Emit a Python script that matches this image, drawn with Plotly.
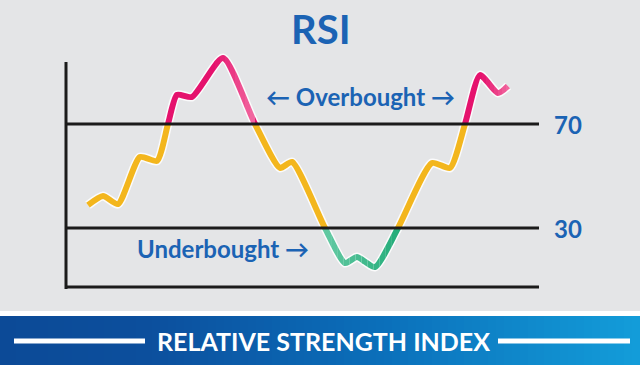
import plotly.graph_objects as go
import numpy as np

# ---------------- data ----------------
days = [0, 3, 6, 10.4, 13.8, 16, 17.8, 20.8, 27, 33.4, 38.4, 40.8, 47.4, 51.4,
        53.8, 57.4, 62, 68.8, 72.4, 75.4, 78.4, 82, 84]
rsi = [38.8, 42.3, 39.2, 57.3, 55.8, 70, 81.2, 80.4, 95.4, 70, 53.1, 55.4, 30,
       16.5, 18.8, 15, 30, 55, 53.1, 70, 88.8, 81.9, 84.6]
levels = [70, 30]
level_labels = ["70", "30"]
title_text = "RSI"
over_text = "← Overbought →"
under_text = "Underbought →"
banner_text = "RELATIVE STRENGTH INDEX"

# ---------------- layout helpers ----------------
W, H = 640, 365
X0, X1 = -17.6, 110.4                       # day range across full width
Y0, Y1 = 70 - (H - 124) / 2.6, 70 + 124 / 2.6   # value range across full height

BG = "#e4e5e7"
BLUE = "#1b63b4"
YELLOW = "#f3b61d"
PINK_D, PINK_L = "#e5126d", "#f26ca2"
GREEN_L, GREEN_D = "#63c9a3", "#24ad7a"
SMOOTH = 0.6
LW = 6


def px(x):
    return x / W


def py(y):
    return 1 - y / H


def hx(h):
    h = h.lstrip("#")
    return np.array([int(h[i:i + 2], 16) for i in (0, 2, 4)], dtype=float)


def mix(c1, c2, t):
    t = min(max(t, 0), 1)
    c = hx(c1) * (1 - t) + hx(c2) * t
    return "rgb(%d,%d,%d)" % tuple(np.round(c))


def pink_col(x):
    if x <= 25.4:
        return PINK_D
    if x <= 33.4:
        return mix(PINK_D, PINK_L, (x - 25.4) / 8)
    if x <= 78.8:
        return PINK_D
    return mix(PINK_D, PINK_L, (x - 78.8) / 5.6)


def green_col(x):
    return mix(GREEN_L, GREEN_D, (x - 47.4) / 14.6)


bands = [(X0, X1, 30, 70, YELLOW)]
pe = np.concatenate([[X0], np.linspace(25.4, 33.4, 9), np.linspace(78.8, 84.4, 8), [X1]])
for a, b in zip(pe[:-1], pe[1:]):
    bands.append((a, b, 70, Y1, pink_col((a + b) / 2)))
ge = np.concatenate([[X0], np.linspace(47.4, 62, 13), [X1]])
for a, b in zip(ge[:-1], ge[1:]):
    bands.append((a, b, Y0, 30, green_col((a + b) / 2)))

fig = go.Figure()
layout = dict(
    width=W, height=H, margin=dict(l=0, r=0, t=0, b=0),
    paper_bgcolor=BG, plot_bgcolor="rgba(0,0,0,0)", showlegend=False,
    xaxis=dict(domain=[0, 1], range=[X0, X1], visible=False, fixedrange=True),
    yaxis=dict(domain=[0, 1], range=[Y0, Y1], visible=False, fixedrange=True),
)

# white halo under the line
fig.add_trace(go.Scatter(x=days, y=rsi, mode="lines", hoverinfo="skip",
                         line=dict(color="rgba(255,255,255,0.85)", width=LW + 3,
                                   shape="spline", smoothing=SMOOTH),
                         xaxis="x", yaxis="y"))


def cl(v):
    return min(max(v, 0), 1)


for k, (xa, xb, ya, yb, col) in enumerate(bands, start=2):
    layout[f"xaxis{k}"] = dict(domain=[cl((xa - X0) / (X1 - X0)), cl((xb - X0) / (X1 - X0))],
                               range=[xa, xb], visible=False, fixedrange=True, anchor=f"y{k}")
    layout[f"yaxis{k}"] = dict(domain=[cl((ya - Y0) / (Y1 - Y0)), cl((yb - Y0) / (Y1 - Y0))],
                               range=[ya, yb], visible=False, fixedrange=True, anchor=f"x{k}")
    fig.add_trace(go.Scatter(x=days, y=rsi, mode="lines", hoverinfo="skip",
                             line=dict(color=col, width=LW, shape="spline", smoothing=SMOOTH),
                             xaxis=f"x{k}", yaxis=f"y{k}"))

shapes = []
# banner
shapes.append(dict(type="rect", xref="paper", yref="paper", x0=0, x1=1,
                   y0=py(316), y1=py(311), fillcolor="white", line=dict(width=0), layer="below"))
stops = [(0, "#0c4a97"), (150, "#0c4f9d"), (380, "#0b6fba"), (640, "#139dd9")]
n = 80
for i in range(n):
    xa = i * W / n
    xm = xa + W / n / 2
    for j in range(len(stops) - 1):
        if stops[j][0] <= xm <= stops[j + 1][0]:
            t = (xm - stops[j][0]) / (stops[j + 1][0] - stops[j][0])
            c = mix(stops[j][1], stops[j + 1][1], t)
    shapes.append(dict(type="rect", xref="paper", yref="paper", x0=px(xa), x1=px(xa + W / n + 1),
                       y0=0, y1=py(316), fillcolor=c, line=dict(width=0), layer="below"))
for a, b in [(14, 145), (498, 630)]:
    shapes.append(dict(type="line", xref="paper", yref="paper", x0=px(a), x1=px(b),
                       y0=py(341), y1=py(341), line=dict(color="white", width=5)))
# chart frame
AX = "#1b1b1b"
shapes.append(dict(type="line", xref="paper", yref="paper", x0=px(66), x1=px(66),
                   y0=py(62), y1=py(289), line=dict(color=AX, width=3)))
shapes.append(dict(type="line", xref="paper", yref="paper", x0=px(65), x1=px(539),
                   y0=py(287), y1=py(287), line=dict(color=AX, width=3)))
for lv in levels:
    shapes.append(dict(type="line", xref="paper", yref="y", x0=px(65), x1=px(539),
                       y0=lv, y1=lv, line=dict(color=AX, width=3)))
layout["shapes"] = shapes

FONT = "Lato, Open Sans, sans-serif"
A = dict(showarrow=False, xanchor="center", yanchor="middle")
ann = []
ann.append(dict(text=title_text, x=px(321), y=py(29), xref="paper", yref="paper",
                font=dict(family=FONT, size=40, color=BLUE, weight="bold"), **A))
ann.append(dict(text=over_text, x=px(360), y=py(96), xref="paper", yref="paper",
                font=dict(family=FONT, size=24, color=BLUE, weight="bold"), **A))
ann.append(dict(text=under_text, x=px(223), y=py(248), xref="paper", yref="paper",
                font=dict(family=FONT, size=24, color=BLUE, weight="bold"), **A))
for lv, lab in zip(levels, level_labels):
    ann.append(dict(text=lab, x=px(568), y=lv, xref="paper", yref="y",
                    font=dict(family=FONT, size=24, color=BLUE, weight="bold"), **A))
ann.append(dict(text=banner_text, x=px(323), y=py(341), xref="paper", yref="paper",
                font=dict(family=FONT, size=25, color="white", weight="bold"), **A))
layout["annotations"] = ann

fig.update_layout(**layout)
fig.write_html("out.html", config={"displayModeBar": False},
               post_script="document.body.style.margin='0';document.body.style.overflow='hidden';")
